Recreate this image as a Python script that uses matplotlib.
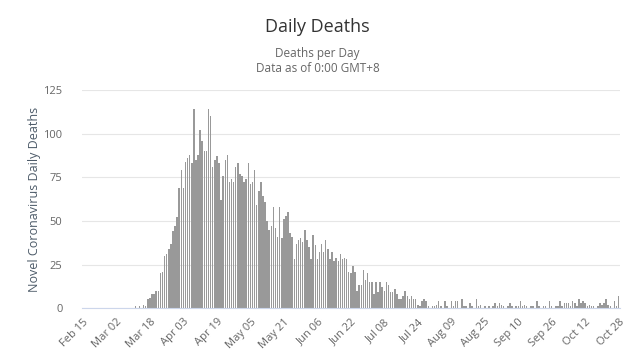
import numpy as np
from matplotlib import pyplot as plt

# daily deaths, one value per day from Feb 15 to Oct 28
early = [0] * 25 + [1, 0, 1, 0, 2, 1]
rise = [5, 6, 8, 8, 10, 10, 20, 21, 30, 31, 34, 37, 44, 47, 52, 69,
        79, 69, 84, 86, 88, 83, 114, 85, 88, 102, 96, 90, 90, 114, 110, 81]
plateau = [85, 87, 83, 62, 76, 85, 88, 72, 74, 72, 81, 83, 77, 76, 72, 74,
           83, 71, 72, 79, 59, 67, 72, 64, 61, 50, 45, 47, 58, 46, 41, 58, 40]
decline = [51, 53, 55, 43, 41, 28, 37, 39, 40, 38, 45, 39, 35, 28, 42, 36,
           28, 32, 37, 32, 39, 34, 28, 32, 27, 29, 27, 31, 28, 29, 28, 21,
           20, 24, 21, 10, 13, 13]
tail1 = [22, 16, 20, 15, 15, 8, 15, 9, 15, 12, 10, 15, 13, 9, 9, 11, 8, 5,
         5, 7, 10, 7, 5, 7, 5, 5, 2, 1, 4, 5, 4, 1, 0, 1, 1, 2, 4, 1, 0, 4,
         1, 0, 4, 1, 4, 4, 0, 5, 1]
tail2 = [1, 0, 3, 1, 0, 5, 1, 2, 0, 1, 0, 1, 0, 1, 3, 1, 3, 2, 1, 0, 1, 3,
         1, 0, 1, 1, 4, 1, 2, 1, 0, 1, 1, 0, 4, 1, 0, 1, 1, 0, 4, 1, 0, 1,
         1, 4, 1, 3, 3, 3, 1, 4, 3, 1, 5, 3, 4, 3, 1, 2, 1, 1, 0, 1, 3, 2,
         3, 5, 2, 1, 0, 4, 1, 7]
deaths = early + rise + plateau + decline + tail1 + tail2

tick_labels = ['Feb 15', 'Mar 02', 'Mar 18', 'Apr 03', 'Apr 19', 'May 05',
               'May 21', 'Jun 06', 'Jun 22', 'Jul 08', 'Jul 24', 'Aug 09',
               'Aug 25', 'Sep 10', 'Sep 26', 'Oct 12', 'Oct 28']

plt.rcParams['font.family'] = ['Open Sans', 'DejaVu Sans']

fig = plt.figure(figsize=(6.35, 3.6), dpi=100)
ax = fig.add_axes([0.129, 0.144, 0.847, 0.606])

days = np.arange(len(deaths))
ax.bar(days, deaths, width=0.72, color='#999999', linewidth=0, zorder=2)

ax.set_xlim(-0.5, len(deaths) - 0.5)
ax.set_ylim(0, 125)
ax.set_yticks([0, 25, 50, 75, 100, 125])
ax.set_xticks(np.arange(0, len(deaths), 16))
ax.set_xticklabels(tick_labels, rotation=45, ha='right', rotation_mode='anchor')
ax.tick_params(axis='x', length=0, labelsize=8, colors='#666666', pad=6)
ax.tick_params(axis='y', length=0, labelsize=8, colors='#666666', pad=14)
ax.grid(axis='y', color='#e6e6e6', linewidth=0.8, zorder=0)
for s in ['top', 'right', 'left']:
    ax.spines[s].set_visible(False)
ax.spines['bottom'].set_color('#ccd6eb')
ax.spines['bottom'].set_zorder(3)
ax.set_ylabel('Novel Coronavirus Daily Deaths', fontsize=9, color='#4d5b69',
              labelpad=2)

fig.text(0.5, 0.925, 'Daily Deaths', ha='center', va='center',
         fontsize=13, color='#333333')
fig.text(0.5, 0.852, 'Deaths per Day', ha='center', va='center',
         fontsize=8.5, color='#666666')
fig.text(0.5, 0.81, 'Data as of 0:00 GMT+8', ha='center', va='center',
         fontsize=8.5, color='#666666')

plt.savefig('out.png')
